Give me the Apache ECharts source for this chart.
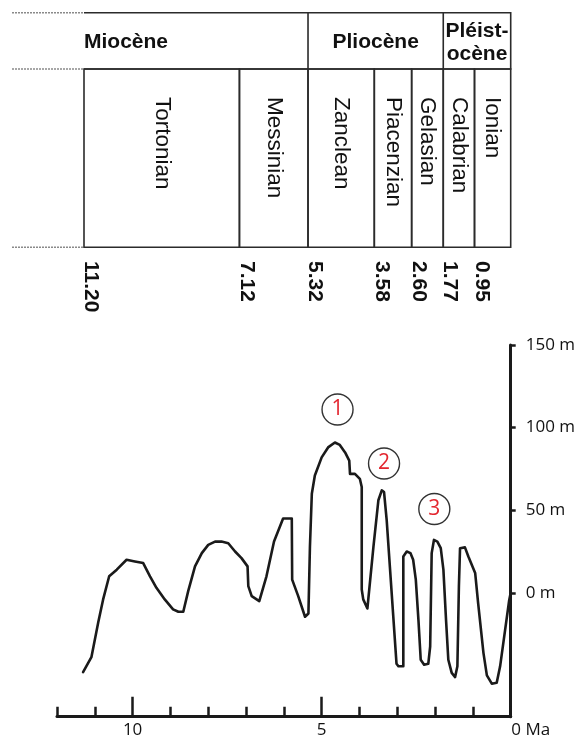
<!DOCTYPE html>
<html>
<head>
<meta charset="utf-8">
<script src="https://cdn.jsdelivr.net/npm/echarts@6/dist/echarts.min.js"></script>
<style>
  html, body { margin: 0; padding: 0; background: #fff; }
  #chart { width: 582px; height: 742px; }
</style>
</head>
<body>
<div id="chart"></div>
<script>
// ---- Geological time scale (ages in Ma) ----
const epochNames = ['Miocène', 'Pliocène', 'Pléist-\nocène'];
const epochStart = [11.20, 5.32, 1.77];
const epochEnd   = [5.32, 1.77, 0];

const stageNames = ['Tortonian', 'Messinian', 'Zanclean', 'Piacenzian', 'Gelasian', 'Calabrian', 'Ionian'];
const stageStart = [11.20, 7.12, 5.32, 3.58, 2.60, 1.77, 0.95];
const stageEnd   = [7.12, 5.32, 3.58, 2.60, 1.77, 0.95, 0];

// ---- Sea-level curve: age (Ma) and level (m) ----
const ageMa = [
  11.31, 11.09, 10.91, 10.78, 10.62, 10.42, 10.16, 9.94, 9.72, 9.54,
  9.37, 9.15, 8.93, 8.79, 8.66, 8.53, 8.35, 8.17, 8.00, 7.82,
  7.65, 7.47, 7.29, 7.12, 6.96, 6.94, 6.85, 6.65, 6.46, 6.26,
  6.02, 5.79, 5.78, 5.62, 5.44, 5.35, 5.31, 5.26, 5.18, 5.00,
  4.83, 4.65, 4.52, 4.38, 4.27, 4.25, 4.12, 3.99, 3.94, 3.94,
  3.90, 3.79, 3.63, 3.50, 3.41, 3.35, 3.28, 3.02, 2.97, 2.84,
  2.84, 2.75, 2.65, 2.58, 2.51, 2.44, 2.38, 2.29, 2.18, 2.13,
  2.09, 2.03, 1.94, 1.85, 1.78, 1.71, 1.65, 1.56, 1.47, 1.41,
  1.37, 1.34, 1.21, 1.12, 0.94, 0.86, 0.72, 0.63, 0.50, 0.37,
  0.28, 0.04, 0.00
];
const seaLevel = [
  -48, -39, -18, -4, 10, 14, 20, 19, 18, 10,
  3, -4, -10, -11.5, -11.5, 1, 16, 24, 29, 31,
  31, 30, 25, 21, 16, 4, -2, -5, 10, 31,
  45, 45, 8, -2, -14.5, -12.5, 28, 60, 71, 82,
  88, 91, 89.5, 85, 80, 72, 72, 69, 64, 2,
  -4, -9.5, 28, 56, 62, 61, 44, -43, -44.5, -44.5,
  22, 25, 24, 20, 8, -16.5, -40.5, -43.5, -43, -32.5,
  24, 32, 31, 27, 14, -16.5, -40.5, -48.5, -51, -44.5,
  4, 27, 27.5, 22, 12, -6.5, -36.5, -50, -55, -54.5,
  -44.5, -4.5, 0
];

// ---- Axis ticks and labels ----
const ageTicks = [0, 1, 2, 3, 4, 5, 6, 7, 8, 9, 10, 11, 12];
const ageMajorTicks = [5, 10];
const ageLabels = [10, 5, 0];
const levelTicks = [0, 50, 100, 150];

// ---- Numbered highstands ----
const highstandIds = ['1', '2', '3'];
const highstandAge = [4.58, 3.35, 2.02];
const highstandLevel = [111, 78.3, 50.7];

const INK = '#1a1a1a';
const TABLE_LINE = '#2b2b2b';
const SANS = '"Liberation Sans", Arial, sans-serif';
const AXIS_FONT = '"Open Sans", "Noto Sans", sans-serif';
const AXIS_FONT_SIZE = 17;
const HEADER_ROW = 56.3;   // height of the epoch row in the table

function renderEpoch(params, api) {
  const i = params.dataIndex;
  const cs = params.coordSys;
  const x0 = api.coord([api.value(0), 0])[0];
  const x1 = api.coord([api.value(1), 0])[0];
  const top = cs.y;
  const div = cs.y + HEADER_ROW;
  const bottom = cs.y + cs.height;
  const lineStyle = { stroke: TABLE_LINE, lineWidth: 1.6, fill: null };
  const children = [
    { type: 'polyline', shape: { points: [[x0, top], [x1, top], [x1, div], [x0, div]] }, style: lineStyle }
  ];
  if (i === 0) {
    // dotted lead-in lines at the left of the table
    [top, div, bottom].forEach(function (y) {
      children.push({
        type: 'line', shape: { x1: x0 - 72, y1: y, x2: x0, y2: y },
        style: { stroke: '#8a8a8a', lineWidth: 1.6, lineDash: [2, 1] }
      });
    });
  }
  children.push({
    type: 'text',
    x: i === 0 ? x0 : (x0 + x1) / 2,
    y: (top + div) / 2 + 1.5,
    style: {
      text: epochNames[i],
      align: i === 0 ? 'left' : 'center',
      verticalAlign: 'middle',
      fontFamily: SANS, fontWeight: 'bold', fontSize: 21,
      lineHeight: 23,
      fill: '#111'
    }
  });
  return { type: 'group', children: children };
}

function renderStage(params, api) {
  const i = params.dataIndex;
  const cs = params.coordSys;
  const x0 = api.coord([api.value(0), 0])[0];
  const x1 = api.coord([api.value(1), 0])[0];
  const div = cs.y + HEADER_ROW;
  const bottom = cs.y + cs.height;
  return {
    type: 'group',
    children: [
      {
        type: 'rect', shape: { x: x0, y: div, width: x1 - x0, height: bottom - div },
        style: { stroke: TABLE_LINE, lineWidth: 1.6, fill: null }
      },
      {
        type: 'text', x: (x0 + x1) / 2, y: 97, rotation: -Math.PI / 2,
        style: {
          text: stageNames[i], align: 'left', verticalAlign: 'middle',
          fontFamily: SANS, fontSize: 22.5, fill: '#111'
        }
      },
      {
        type: 'text', x: x0 + 7, y: 261, rotation: -Math.PI / 2,
        style: {
          text: stageStart[i].toFixed(2), align: 'left', verticalAlign: 'middle',
          fontFamily: SANS, fontWeight: 'bold', fontSize: 21, fill: '#111'
        }
      }
    ]
  };
}

const chart = echarts.init(document.getElementById('chart'), null, { renderer: 'canvas' });

chart.setOption({
  animation: false,
  backgroundColor: '#fff',
  grid: [
    { left: 57, top: 345, width: 453.7, height: 371.7 },
    { left: 84, top: 12.7, width: 426.7, height: 234.6 }
  ],
  xAxis: [
    {
      gridIndex: 0, type: 'value', min: 0, max: 12, interval: 1, inverse: true, position: 'bottom',
      axisLine: { onZero: false, lineStyle: { color: INK, width: 3 } },
      axisTick: { inside: true, length: 10, customValues: ageTicks, lineStyle: { color: INK, width: 2.5 } },
      axisLabel: {
        customValues: ageLabels,
        // the "0 Ma" label starts at the zero tick instead of being centred on it
        formatter: function (v) { return v === 0 ? '{ma|0 Ma}' : String(v); },
        rich: {
          ma: { padding: [0, 0, 0, 40], color: '#111', fontFamily: AXIS_FONT, fontSize: AXIS_FONT_SIZE }
        },
        color: '#111', fontFamily: AXIS_FONT, fontSize: AXIS_FONT_SIZE, margin: 5
      },
      splitLine: { show: false }
    },
    {
      gridIndex: 0, type: 'value', min: 0, max: 12, inverse: true, position: 'bottom',
      axisLine: { show: false, onZero: false },
      axisTick: { inside: true, length: 20, customValues: ageMajorTicks, lineStyle: { color: INK, width: 2.5 } },
      axisLabel: { show: false },
      splitLine: { show: false }
    },
    {
      gridIndex: 1, type: 'value', min: 0, max: 11.2, inverse: true, show: false
    }
  ],
  yAxis: [
    {
      gridIndex: 0, type: 'value', min: -75, max: 150, position: 'right',
      axisLine: { show: true, onZero: false, lineStyle: { color: INK, width: 3 } },
      axisTick: { show: true, length: 5, customValues: levelTicks, lineStyle: { color: INK, width: 2.5 } },
      axisLabel: {
        customValues: levelTicks,
        formatter: function (v) { return v + ' m'; },
        color: '#111', fontFamily: AXIS_FONT, fontSize: AXIS_FONT_SIZE, margin: 15
      },
      splitLine: { show: false }
    },
    { gridIndex: 1, type: 'value', min: 0, max: 1, show: false }
  ],
  series: [
    {
      type: 'custom', xAxisIndex: 2, yAxisIndex: 1, clip: false,
      renderItem: renderEpoch,
      encode: { x: [0, 1] },
      data: epochStart.map(function (s, i) { return [s, epochEnd[i]]; })
    },
    {
      type: 'custom', xAxisIndex: 2, yAxisIndex: 1, clip: false,
      renderItem: renderStage,
      encode: { x: [0, 1] },
      data: stageStart.map(function (s, i) { return [s, stageEnd[i]]; })
    },
    {
      type: 'line', xAxisIndex: 0, yAxisIndex: 0,
      showSymbol: false, smooth: false,
      lineStyle: { color: INK, width: 2.6, join: 'round', cap: 'round' },
      data: ageMa.map(function (a, i) { return [a, seaLevel[i]]; })
    },
    {
      type: 'scatter', xAxisIndex: 0, yAxisIndex: 0,
      symbol: 'circle', symbolSize: 31,
      itemStyle: { color: '#fff', borderColor: '#333', borderWidth: 1.4, opacity: 1 },
      label: {
        show: true, position: 'inside',
        formatter: function (p) { return highstandIds[p.dataIndex]; },
        color: '#e3262f', fontFamily: AXIS_FONT, fontSize: 21
      },
      data: highstandAge.map(function (a, i) { return [a, highstandLevel[i]]; })
    }
  ]
});
</script>
</body>
</html>
